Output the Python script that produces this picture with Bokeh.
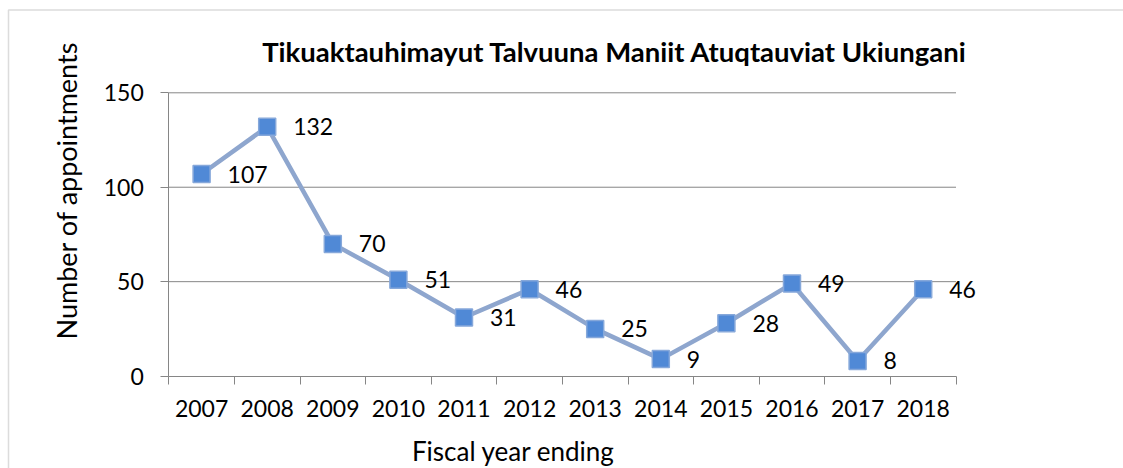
from bokeh.plotting import figure
from bokeh.models import (ColumnDataSource, Range1d, FixedTicker, LabelSet, Label,
                          BoxAnnotation)
from bokeh.core.properties import value
from bokeh.embed import file_html
from bokeh.resources import INLINE
import math

# ---- data ----
years = ["2007", "2008", "2009", "2010", "2011", "2012",
         "2013", "2014", "2015", "2016", "2017", "2018"]
appointments = [107, 132, 70, 51, 31, 46, 25, 9, 28, 49, 8, 46]
y_ticks = [0, 50, 100, 150]
title_text = "Tikuaktauhimayut Talvuuna Maniit Atuqtauviat Ukiungani"
x_label = "Fiscal year ending"
y_label = "Number of appointments"

FONT = "Lato"
GRAY = "#868686"

n = len(years)
xs = [i + 0.5 for i in range(n)]
src = ColumnDataSource(dict(x=xs, y=appointments,
                            lbl=[str(v) for v in appointments]))

# the frame fills the whole canvas; the ranges are chosen so that the
# category band 0..n and values 0..150 fall where the chart's plot area is
W, H = 1123, 468
PX_L, PX_R = 168.3, 955.5      # plot area edges (pixels)
PX_T, PX_B = 92.3, 375.6
ux = (PX_R - PX_L) / n
uy = (PX_B - PX_T) / 150.0
x_range = Range1d(-PX_L / ux, n + (W - PX_R) / ux)
y_range = Range1d(-(H - PX_B) / uy, 150 + PX_T / uy)

def dx(px):
    return (px - PX_L) / ux

def dy(py):
    return (PX_B - py) / uy

p = figure(width=W, height=H, output_backend="svg", toolbar_location=None,
           x_range=x_range, y_range=y_range,
           min_border_left=0, min_border_right=0,
           min_border_top=0, min_border_bottom=0)
p.outline_line_color = None
p.background_fill_color = "white"
p.border_fill_color = "white"
p.xgrid.visible = False
p.ygrid.visible = False

# x axis: ticks between categories (minor), labels at the centres (major)
xa = p.xaxis[0]
xa.fixed_location = 0
xa.bounds = (0, n)
xa.ticker = FixedTicker(ticks=xs, minor_ticks=list(range(n + 1)))
xa.major_label_overrides = {x: y for x, y in zip(xs, years)}
xa.major_tick_out = 0
xa.major_tick_in = 0
xa.minor_tick_out = 8
xa.minor_tick_in = 0
xa.minor_tick_line_color = GRAY
xa.axis_line_color = GRAY
xa.major_label_text_font = FONT
xa.major_label_text_font_size = "23px"
xa.major_label_text_color = "black"
xa.major_label_standoff = 16

ya = p.yaxis[0]
ya.fixed_location = 0
ya.bounds = (0, 150)
ya.ticker = FixedTicker(ticks=y_ticks, minor_ticks=[])
ya.major_tick_out = 8
ya.major_tick_in = 0
ya.major_tick_line_color = GRAY
ya.axis_line_color = GRAY
ya.major_label_text_font = FONT
ya.major_label_text_font_size = "23px"
ya.major_label_text_color = "black"
ya.major_label_standoff = 17

# horizontal gridlines over the category band
grid_vals = [t for t in y_ticks if t > 0]
p.segment(x0=[0] * len(grid_vals), x1=[n] * len(grid_vals),
          y0=grid_vals, y1=grid_vals, line_color=GRAY, line_width=1)

# series
p.line("x", "y", source=src, line_color="#8EA6CE", line_width=4.5)
p.scatter("x", "y", source=src, marker="square", size=17,
          fill_color="#5089D6", line_color="#86A8DA", line_width=1.5)

labels = LabelSet(x="x", y="y", text="lbl", source=src, x_offset=26,
                  text_align="left", text_baseline="middle",
                  text_font=value(FONT), text_font_size=value("23px"),
                  text_color="black")
p.add_layout(labels)

# title
p.add_layout(Label(x=dx(614.3), y=dy(51), text=title_text, text_align="center",
                   text_baseline="alphabetic", text_font=FONT,
                   text_font_size="27.5px", text_font_style="bold",
                   text_color="black"))
# axis titles
p.add_layout(Label(x=dx(513), y=dy(450.5), text=x_label, text_align="center",
                   text_baseline="alphabetic", text_font=FONT,
                   text_font_size="26px", text_color="black"))
p.add_layout(Label(x=dx(66), y=dy(190), text=y_label, text_align="center",
                   text_baseline="middle", angle=math.pi / 2, text_font=FONT,
                   text_font_size="27px", text_color="black"))

# chart-area border
p.add_layout(BoxAnnotation(left=dx(8), top=dy(9.5), right=dx(W + 20),
                           bottom=dy(H + 20), fill_alpha=0,
                           line_color="#8c8c8c", line_width=1.5))

open("out.html", "w").write(file_html(p, INLINE))
